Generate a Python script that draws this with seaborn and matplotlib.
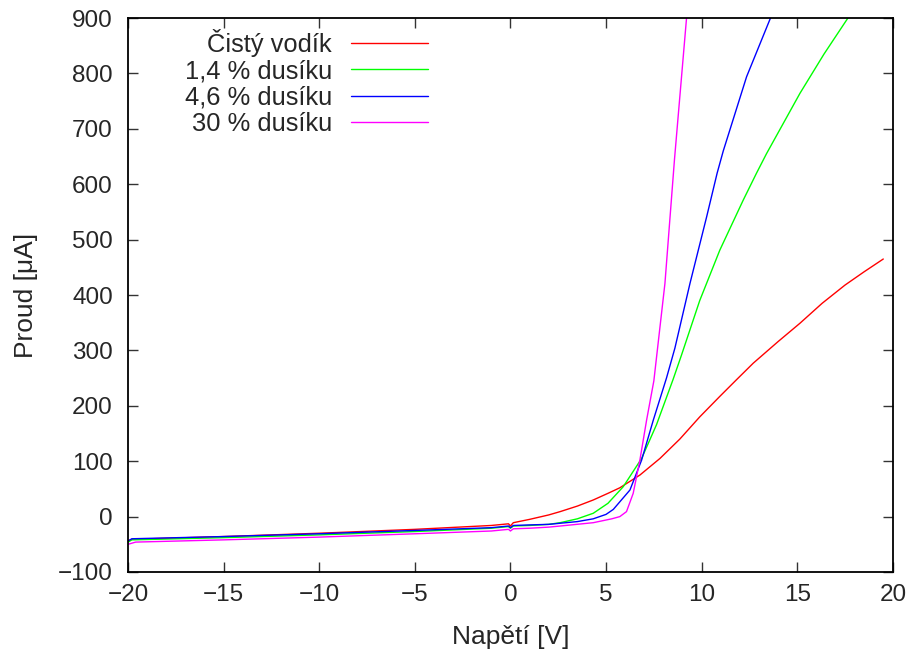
import numpy as np
import pandas as pd
import matplotlib
matplotlib.use("Agg")
import matplotlib.pyplot as plt
import seaborn as sns

# pure hydrogen
x_h = [-20, -19.8, -15, -10, -5, -1, -0.1, 0, 0.15, 1, 2, 2.6, 3.5, 4.33, 5.1, 5.72, 6.77, 7.82,
       8.86, 9.9, 10.95, 11.82, 12.7, 14, 15.14, 16.3, 17.5, 18.5, 19.5]
y_h = [-44, -41, -36, -30, -23, -16, -13, -17, -11, -5, 3, 9, 19, 30, 42, 52, 75, 105,
       140, 180, 217, 247, 277, 316, 349, 385, 418, 442, 465]

# 1.4 % nitrogen
x_n1 = [-20, -19.8, -15, -10, -5, -1, -0.1, 0, 0.15, 1, 2, 2.6, 3.5, 4.33, 5.1, 5.9, 6.86, 7.64,
        8.51, 8.95, 9.9, 10.95, 12.17, 12.87, 13.39, 15.14, 16.4, 17.65]
y_n1 = [-46, -42, -38, -33, -27, -21, -18, -21, -17, -16, -14, -11, -4, 6, 24, 54, 105, 166,
        248, 292, 390, 481, 571, 620, 655, 764, 835, 900]

# 4.6 % nitrogen
x_n4 = [-20, -19.8, -15, -10, -5, -1, -0.1, 0, 0.15, 1, 2, 2.6, 3.5, 4.33, 5.0, 5.38, 6.25, 6.86,
        7.47, 8.16, 8.6, 9.39, 10.26, 10.81, 11.13, 12.35, 13.6]
y_n4 = [-44, -40, -36, -31, -25, -20, -17, -20, -16, -15, -14, -12, -9, -4, 4, 13, 48, 102,
        174, 250, 304, 421, 541, 620, 660, 794, 900]

# 30 % nitrogen
x_n30 = [-20, -19.6, -15, -10, -5, -1, -0.1, 0, 0.15, 1, 2, 2.6, 4.33, 5.3, 5.72, 6.07, 6.42, 6.77,
         7.12, 7.5, 8.08, 8.58, 9.21]
y_n30 = [-50, -46, -42, -37, -31, -26, -23, -26, -22, -21, -19, -17, -11, -4, 0, 9, 42, 102,
         174, 245, 421, 645, 900]

labels = ["Čistý vodík", "1,4 % dusíku", "4,6 % dusíku", "30 % dusíku"]
colors = ["#ff0000", "#00ff00", "#0000ff", "#ff00ff"]

frames = []
for lab, xs, ys in zip(labels, [x_h, x_n1, x_n4, x_n30], [y_h, y_n1, y_n4, y_n30]):
    frames.append(pd.DataFrame({"U": xs, "I": ys, "serie": lab}))
df = pd.concat(frames, ignore_index=True)

sns.set_style("ticks")
plt.rcParams["font.family"] = ["Liberation Sans", "DejaVu Sans"]

fig = plt.figure(figsize=(9.12, 6.58), dpi=100)
ax = fig.add_axes([0.1404, 0.1307, 0.8386, 0.8419])

sns.lineplot(data=df, x="U", y="I", hue="serie", palette=colors, sort=False,
             estimator=None, linewidth=1.0, ax=ax)

ax.set_xlim(-20, 20)
ax.set_ylim(-100, 900)
ax.set_xticks(np.arange(-20, 21, 5))
ax.set_yticks(np.arange(-100, 901, 100))
ax.set_xticklabels([str(v).replace("-", "\u2212") for v in range(-20, 21, 5)])
ax.set_yticklabels([str(v).replace("-", "\u2212") for v in range(-100, 901, 100)])
ax.tick_params(direction="in", length=7, width=1, top=True, right=True,
               labelsize=17.5, color="#333333")
ax.tick_params(axis="x", pad=9)
ax.tick_params(axis="y", pad=11)
for s in ax.spines.values():
    s.set_linewidth(1.3)
    s.set_color("black")
ax.set_xlabel("Napětí [V]", fontsize=19, labelpad=13)
ax.set_ylabel("Proud [μA]", fontsize=19, labelpad=14)

leg = ax.legend(loc="upper right", bbox_to_anchor=(0.392, 0.981), frameon=False,
                fontsize=18.4, markerfirst=False, handlelength=3.0,
                labelspacing=0.1, handletextpad=0.75, borderpad=0, borderaxespad=0)

fig.savefig("out.png", dpi=100)
